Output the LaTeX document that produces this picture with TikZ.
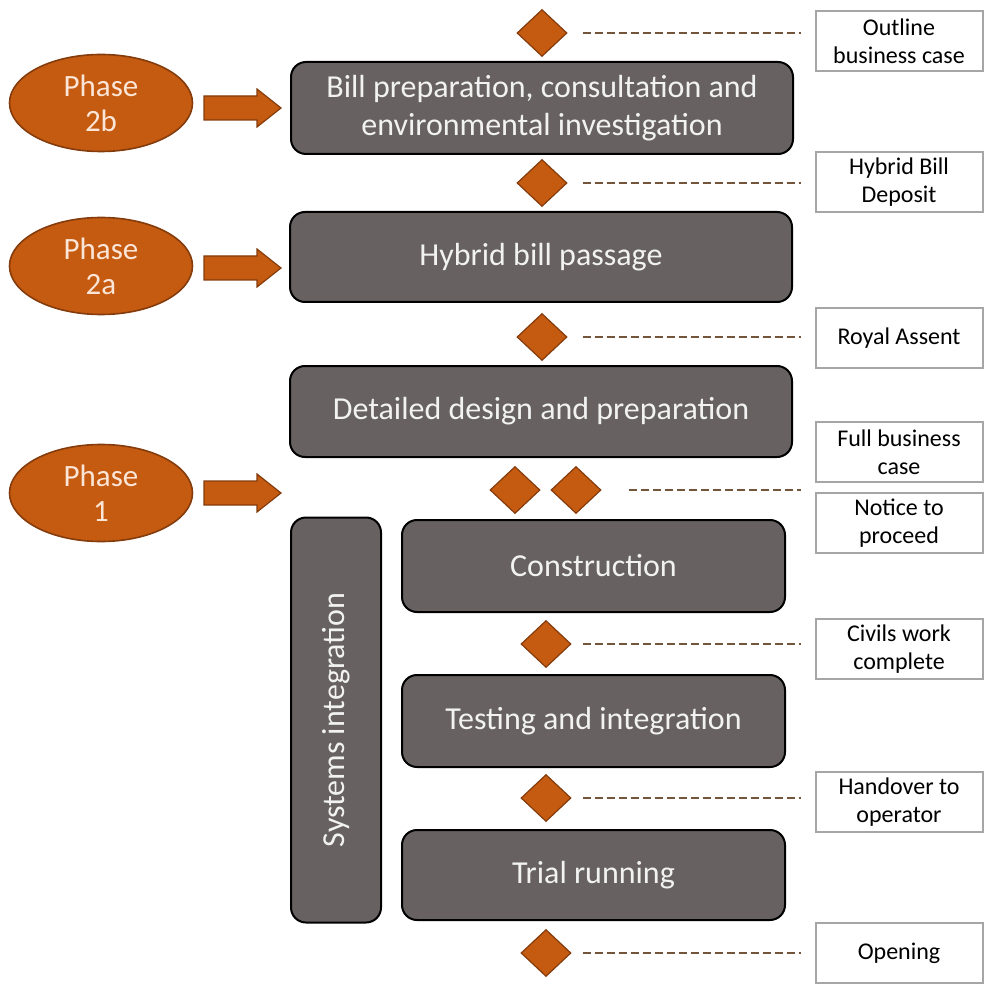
\documentclass[tikz,border=0pt]{standalone}
\usepackage{fontspec}
\setmainfont{Carlito}
\usetikzlibrary{shapes.geometric}
\definecolor{phaseorange}{HTML}{C55A11}
\definecolor{phaseedge}{HTML}{843C0C}
\definecolor{phasetext}{HTML}{FBE5D6}
\definecolor{stagegrey}{HTML}{676161}
\definecolor{stagetext}{HTML}{F2F2F2}
\definecolor{labeledge}{HTML}{A6A6A6}
\definecolor{dashbrown}{HTML}{72553A}

\begin{document}
\begin{tikzpicture}[x=0.5pt,y=-0.5pt,
  stage/.style={draw=black,line width=1pt,fill=stagegrey,rounded corners=7.5pt,
    text=stagetext,font=\fontsize{16}{19}\selectfont,align=center,inner sep=0pt},
  phase/.style={ellipse,draw=phaseedge,line width=0.8pt,fill=phaseorange,text=phasetext,
    minimum width=91.5pt,minimum height=48.5pt,inner sep=0pt,align=center,
    font=\fontsize{15.5}{17.5}\selectfont},
  fatarrow/.style={fill=phaseorange,draw=phaseedge,line width=0.6pt},
  milestone/.style={diamond,draw=phaseedge,line width=0.6pt,fill=phaseorange,
    minimum width=25pt,minimum height=23.5pt,inner sep=0pt},
  msline/.style={dashbrown,line width=1.4pt,dash pattern=on 4pt off 2pt},
  gate/.style={draw=labeledge,line width=1pt,fill=white,minimum width=83.5pt,
    minimum height=30pt,align=center,inner sep=0pt,font=\fontsize{12}{14}\selectfont}]
  \useasboundingbox (0,0) rectangle (986,989);

  % phases and their arrows
  \foreach \name/\y/\txt in {p2b/103/2b, p2a/266/2a, p1/493/1} {
    \node[phase] (\name) at (101,\y) {Phase\\\txt};
  }
  \foreach \y in {108,268,493} {
    \filldraw[fatarrow] (204,\y-12) -- (257,\y-12) -- (257,\y-19) -- (281,\y)
      -- (257,\y+19) -- (257,\y+12) -- (204,\y+12) -- cycle;
  }

  % stages
  \node[stage,minimum width=251pt,minimum height=46pt] (bill) at (542,108)
    {Bill preparation, consultation and\\environmental investigation};
  \node[stage,minimum width=251pt,minimum height=45pt] (passage) at (541,257) {Hybrid bill passage};
  \node[stage,minimum width=251pt,minimum height=45.5pt] (design) at (541,411.5) {Detailed design and preparation};
  \node[stage,rotate=90,minimum width=202.5pt,minimum height=45pt] (sysint) at (336,720) {Systems integration};
  \node[stage,minimum width=191.5pt,minimum height=46pt] (constr) at (593.5,566) {Construction};
  \node[stage,minimum width=191.5pt,minimum height=46pt] (testing) at (593.5,721) {Testing and integration};
  \node[stage,minimum width=191.5pt,minimum height=45pt] (trial) at (593.5,875) {Trial running};

  % milestones
  \foreach \i/\x/\y in {1/542/33, 2/542/183, 3/542/337, 4/515/490, 5/576/490,
      6/546/644, 7/546/798, 8/546/953} {
    \node[milestone] (m\i) at (\x,\y) {};
  }
  \foreach \i/\y/\txt in {1/41/{Outline\\business case}, 2/182/{Hybrid Bill\\Deposit},
      3/338/{Royal Assent}, 4/452/{Full business\\case}, 5/523/{Notice to\\proceed},
      6/649/{Civils work\\complete}, 7/802/{Handover to\\operator}, 8/953/{Opening}} {
    \node[gate] (g\i) at (899,\y) {\txt};
  }
  \foreach \a/\b/\s in {m1/g1/7.5, m2/g2/7.5, m3/g3/7.5, m5/g4/13.5,
      m6/g6/5.5, m7/g7/5.5, m8/g8/5.5} {
    \draw[msline,shorten <=\s pt,shorten >=7pt] (\a.east) -- (\a.east -| \b.west);
  }
\end{tikzpicture}
\end{document}
